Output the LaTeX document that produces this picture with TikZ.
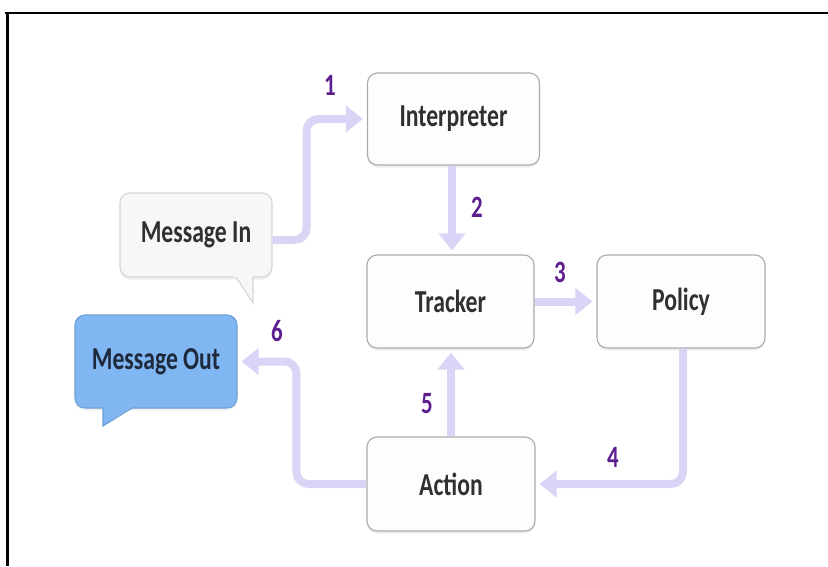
\documentclass[tikz,border=0pt]{standalone}
\usepackage{fontspec}
\newfontfamily\lblfont{Carlito}[FakeStretch=0.74]
\usetikzlibrary{arrows.meta,shadows}
\definecolor{flowc}{HTML}{DAD4F6}
\definecolor{numc}{HTML}{5E1F8E}
\definecolor{boxline}{HTML}{ABABAB}
\definecolor{boxfill}{HTML}{FDFDFD}
\definecolor{infill}{HTML}{F7F7F7}
\definecolor{inline}{HTML}{D6D6D6}
\definecolor{outfill}{HTML}{80B6F1}
\definecolor{outline}{HTML}{6C9FD6}
\definecolor{txt}{HTML}{303030}
\definecolor{outtxt}{HTML}{1E2A3C}
\begin{document}
\begin{tikzpicture}[x=1pt,y=-1pt,
  box/.style={draw=boxline, line width=1.1pt, fill=boxfill, rounded corners=10pt,
    font=\lblfont\bfseries\fontsize{32}{36}\selectfont, text=txt,
    drop shadow={opacity=0.12, shadow xshift=0pt, shadow yshift=-2.5pt}},
  flow/.style={draw=flowc, line width=8pt, rounded corners=12pt,
    -{Triangle[length=17pt,width=26pt]}, shorten >=4pt},
  num/.style={font=\lblfont\bfseries\fontsize{31}{34}\selectfont, text=numc, inner sep=0pt}]
\useasboundingbox (0,0) rectangle (828,566);
\fill[white] (0,0) rectangle (828,566);
% frame
\draw[line width=2.5pt, black] (5,13) -- (828,13);
\draw[line width=2.5pt, black] (7.5,12) -- (7.5,566);

% nodes
\node[box, minimum width=172pt, minimum height=92pt] (interp) at (453.5,119) {Interpreter};
\node[box, minimum width=167pt, minimum height=93pt] (tracker) at (450.5,301.5) {Tracker};
\node[box, minimum width=168pt, minimum height=93pt] (policy) at (681,301.5) {Policy};
\node[box, minimum width=168pt, minimum height=94pt] (action) at (451,484) {Action};

% message in bubble
\node[box, draw=inline, fill=infill, drop shadow={opacity=0}, minimum width=152pt, minimum height=84pt] (msgin) at (196,235) {Message In};
\fill[infill] (233,275) -- (253,275) -- (253,303) -- cycle;
\draw[inline, line width=1.1pt] (236,277) -- (253,303) -- (253,276.5);

% message out bubble
\node[box, draw=outline, fill=outfill, drop shadow={opacity=0}, text=outtxt, minimum width=162pt, minimum height=93pt] (msgout) at (156,361.5) {Message Out};
\fill[outfill] (103,406) -- (134,406) -- (103,426) -- cycle;
\draw[outline, line width=1.1pt] (103,407.5) -- (103,426) -- (132,408);

% connectors
\draw[flow] ([yshift=-5pt]msgin.east) -- ++(34,0) |- (interp.west);
\draw[flow] ([xshift=-1.5pt]interp.south) -- ([xshift=-1.5pt]interp.south |- tracker.north);
\draw[flow] (tracker.east) -- (policy.west);
\draw[flow] ([xshift=2pt]policy.south) |- (action.east);
\draw[flow] (action.north) -- (action.north |- tracker.south);
\draw[flow] (action.west) -- ++(-70,0) |- (msgout.east);

% labels
\node[num] (n1) at (330,85) {1};
\node[num] (n2) at (477,207) {2};
\node[num] (n3) at (560,272) {3};
\node[num] (n4) at (613,457) {4};
\node[num] (n5) at (427,404) {5};
\node[num] (n6) at (277,331) {6};
\end{tikzpicture}
\end{document}
